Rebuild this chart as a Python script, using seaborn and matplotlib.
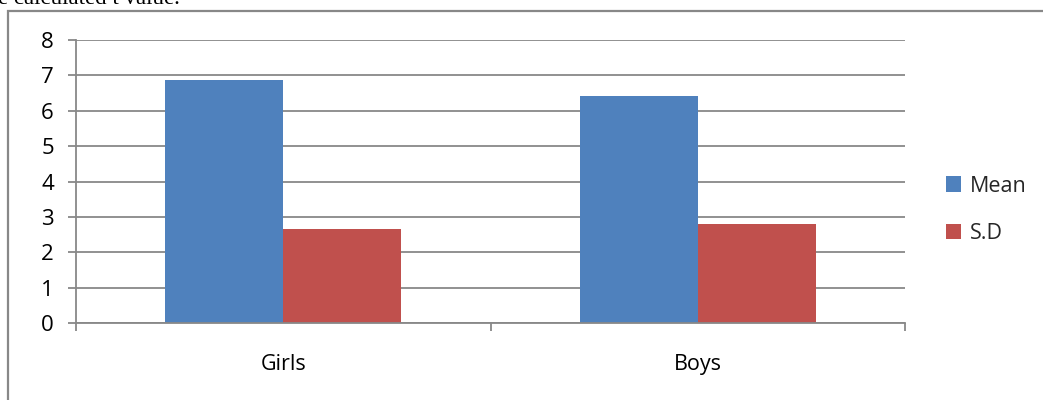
import matplotlib
matplotlib.use("Agg")
import matplotlib.pyplot as plt
from matplotlib.patches import Rectangle
from matplotlib.ticker import FixedLocator
import seaborn as sns
import pandas as pd

# Group statistics
groups = ["Girls", "Boys"]
series = ["Mean", "S.D"]
mean_values = [6.88, 6.43]
sd_values = [2.66, 2.81]
y_ticks = [0, 1, 2, 3, 4, 5, 6, 7, 8]

colors = ["#4F81BD", "#C0504D"]
grid_gray = "#888888"

df = pd.DataFrame({
    "group": groups * 2,
    "stat": [series[0]] * len(groups) + [series[1]] * len(groups),
    "value": mean_values + sd_values,
})

sns.set_theme(style="white")
plt.rcParams["font.family"] = ["Open Sans", "DejaVu Sans"]

W, H = 1043, 400
fig = plt.figure(figsize=(W / 100, H / 100), dpi=100)
ax = fig.add_axes([76 / W, 1 - 323 / H, (905 - 76) / W, (323 - 40) / H])

sns.barplot(data=df, x="group", y="value", hue="stat", order=groups,
            hue_order=series, palette=colors, width=0.57, gap=0,
            saturation=1, ax=ax, legend=True, edgecolor="none", linewidth=0)

ax.set_xlim(-0.5, len(groups) - 0.5)
ax.set_ylim(y_ticks[0], y_ticks[-1])
ax.set_yticks(y_ticks)
ax.set_yticklabels([str(t) for t in y_ticks])
ax.set_xlabel("")
ax.set_ylabel("")

# Horizontal gridlines
ax.yaxis.grid(True, color=grid_gray, linewidth=1.3)
ax.xaxis.grid(False)
ax.set_axisbelow(True)

for side in ["top", "right"]:
    ax.spines[side].set_visible(False)
for side in ["left", "bottom"]:
    ax.spines[side].set_color(grid_gray)
    ax.spines[side].set_linewidth(1.3)

# Ticks: outward y ticks, category boundary ticks on x
ax.tick_params(axis="y", which="major", left=True, length=6, width=1.3,
               color=grid_gray, pad=10, labelsize=16, labelcolor="black")
ax.tick_params(axis="x", which="major", bottom=False, length=0, pad=22,
               labelsize=15.5, labelcolor="black")
ax.xaxis.set_minor_locator(FixedLocator([-0.5 + i for i in range(len(groups) + 1)]))
ax.tick_params(axis="x", which="minor", bottom=True, length=6, width=1.3,
               color=grid_gray)

# Legend to the right of the plot area
handles, labels = ax.get_legend_handles_labels()
ax.legend(handles, labels, loc="center left",
          bbox_to_anchor=(946 / W, 1 - 210 / H), bbox_transform=fig.transFigure,
          frameon=False, fontsize=15.5, handlelength=0.7, handleheight=0.7,
          handletextpad=0.4, labelspacing=1.25, borderpad=0, borderaxespad=0)

# Outer chart frame
fig.patches.append(Rectangle((8 / W, -0.05), 1.2, 1 - 11 / H + 0.05,
                             transform=fig.transFigure, fill=False,
                             edgecolor=grid_gray, linewidth=1.6))

# Caption line from the surrounding text
fig.text(-2 / W, 1 - 4 / H, "e calculated t value.", family="Liberation Serif",
         fontsize=16.5, color="black", ha="left", va="baseline")

fig.savefig("out.png", dpi=100)
